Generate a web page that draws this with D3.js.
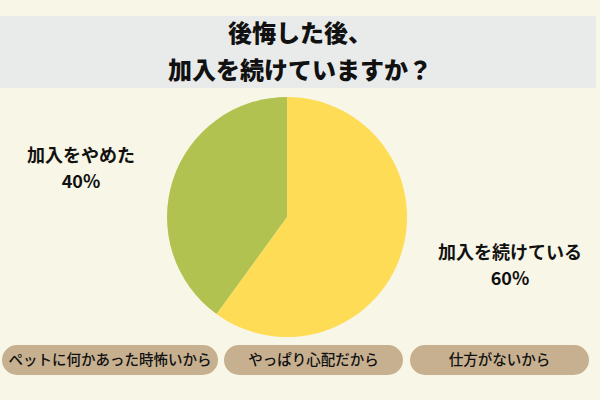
<!DOCTYPE html>
<html>
<head>
<meta charset="utf-8">
<script src="https://cdn.jsdelivr.net/npm/d3@7"></script>
<style>
  html, body { margin: 0; padding: 0; background: #F8F6E6; }
  svg { display: block; }
</style>
</head>
<body>
<svg id="chart"></svg>
<script>
// data
const titleLines = ["後悔した後、", "加入を続けていますか？"];
const categories = ["加入を続けている", "加入をやめた"];
const values = [60, 40];
const sliceColors = ["#FEDC56", "#B2C250"];
const reasons = ["ペットに何かあった時怖いから", "やっぱり心配だから", "仕方がないから"];

const width = 600;
const height = 400;
const fontFamily = "'Noto Sans CJK JP', 'Noto Sans', sans-serif";

const svg = d3.select("#chart")
    .attr("width", width)
    .attr("height", height);

svg.append("rect")
    .attr("width", width)
    .attr("height", height)
    .attr("fill", "#F8F6E6");

// title band
svg.append("rect")
    .attr("x", 0)
    .attr("y", 16)
    .attr("width", 596)
    .attr("height", 72)
    .attr("fill", "#E9EAEA");

svg.selectAll("text.title")
    .data(titleLines)
    .enter()
    .append("text")
    .attr("class", "title")
    .attr("x", width / 2)
    .attr("y", (d, i) => 42 + i * 37)
    .attr("text-anchor", "middle")
    .style("font-family", fontFamily)
    .style("font-size", "24px")
    .style("font-weight", 900)
    .style("fill", "#111")
    .text(d => d);

// pie
const cx = 287, cy = 217, radius = 120;
const pieData = categories.map((label, i) => ({ label, value: values[i] }));

const pie = d3.pie().sort(null).value(d => d.value);
const arc = d3.arc().innerRadius(0).outerRadius(radius);
const color = d3.scaleOrdinal().domain(categories).range(sliceColors);

const chartGroup = svg.append("g")
    .attr("transform", `translate(${cx}, ${cy})`);

chartGroup.selectAll("path")
    .data(pie(pieData))
    .enter()
    .append("path")
    .attr("d", arc)
    .attr("fill", d => color(d.data.label));

// slice labels
const labelPos = { "加入を続けている": [510, 253], "加入をやめた": [81, 156] };

pieData.forEach(d => {
    const [lx, ly] = labelPos[d.label];
    const g = svg.append("g");
    g.append("text")
        .attr("x", lx)
        .attr("y", ly + 6)
        .attr("text-anchor", "middle")
        .style("font-family", fontFamily)
        .style("font-size", "18px")
        .style("font-weight", 700)
        .style("fill", "#111")
        .text(d.label);
    g.append("text")
        .attr("x", lx)
        .attr("y", ly + 32)
        .attr("text-anchor", "middle")
        .style("font-family", fontFamily)
        .style("font-size", "18px")
        .style("font-weight", 700)
        .style("fill", "#111")
        .text(d.value + "%");
});

// reason pills
const pillX = [2, 224, 410];
const pillW = [216, 179, 179];

const pills = svg.selectAll("g.pill")
    .data(reasons)
    .enter()
    .append("g")
    .attr("class", "pill")
    .attr("transform", (d, i) => `translate(${pillX[i]}, 345)`);

pills.append("rect")
    .attr("width", (d, i) => pillW[i])
    .attr("height", 30)
    .attr("rx", 15)
    .attr("fill", "#C7B08F");

pills.append("text")
    .attr("x", (d, i) => pillW[i] / 2)
    .attr("y", 20)
    .attr("text-anchor", "middle")
    .style("font-family", fontFamily)
    .style("font-size", "14.5px")
    .style("font-weight", 500)
    .style("fill", "#111")
    .text(d => d);
</script>
</body>
</html>
